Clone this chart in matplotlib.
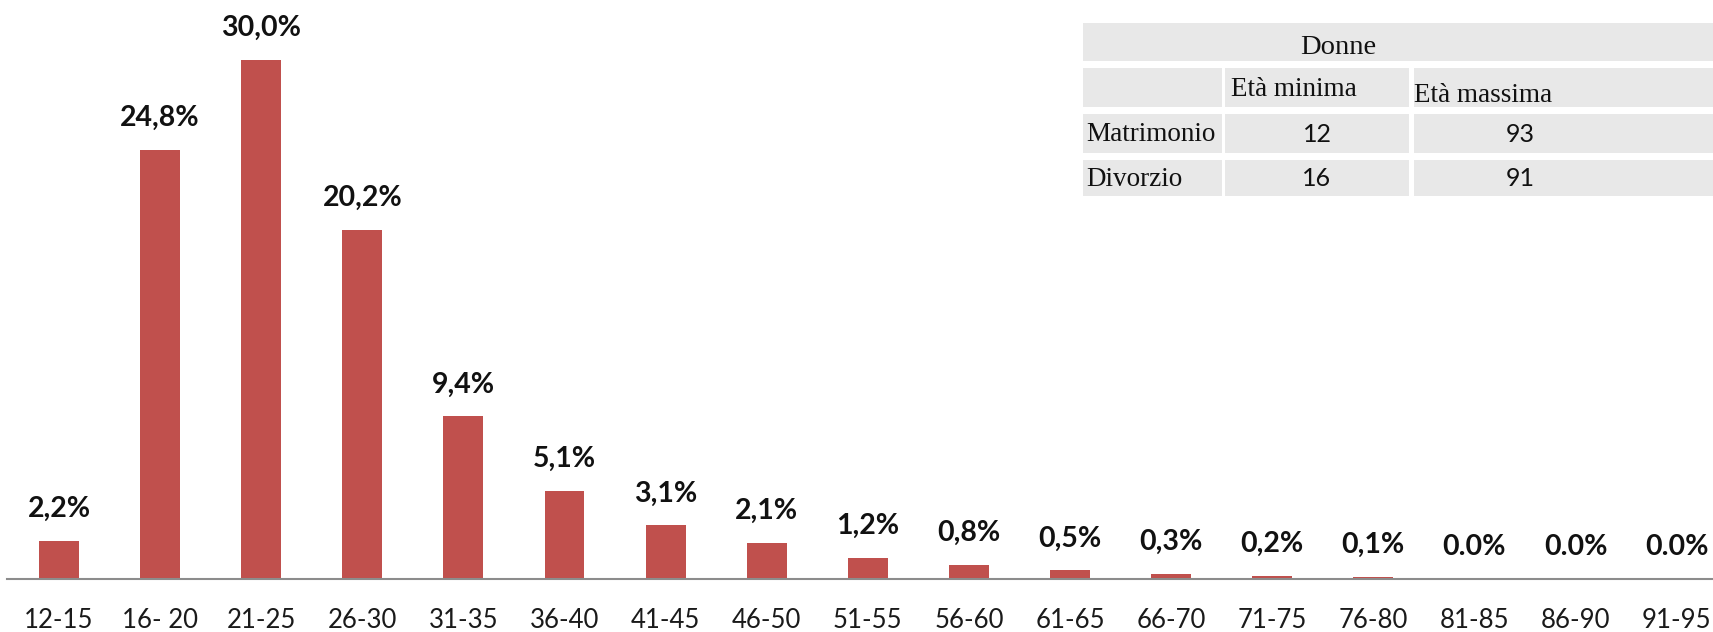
import matplotlib
matplotlib.use("Agg")
import matplotlib.pyplot as plt
from matplotlib.patches import Rectangle

categories = ["12-15", "16- 20", "21-25", "26-30", "31-35", "36-40", "41-45", "46-50",
              "51-55", "56-60", "61-65", "66-70", "71-75", "76-80", "81-85", "86-90", "91-95"]
values = [2.2, 24.8, 30.0, 20.2, 9.4, 5.1, 3.1, 2.1, 1.2, 0.8, 0.5, 0.3, 0.2, 0.1, 0.0, 0.0, 0.0]
value_labels = ["2,2%", "24,8%", "30,0%", "20,2%", "9,4%", "5,1%", "3,1%", "2,1%", "1,2%",
                "0,8%", "0,5%", "0,3%", "0,2%", "0,1%", "0.0%", "0.0%", "0.0%"]

table_title = "Donne"
table_cols = ["Età minima", "Età massima"]
table_rows = ["Matrimonio", "Divorzio"]
table_vals = [[12, 93], [16, 91]]

W, H = 1713, 632
fig = plt.figure(figsize=(W / 100, H / 100), dpi=100)

base_px = 579
ax = fig.add_axes([7 / W, (H - base_px) / H, 1 - 7 / W, base_px / H])
x = list(range(len(categories)))
ax.bar(x, values, width=0.395, color="#C0504D", zorder=2)
step = 101.1
x0 = -52 / step
ax.set_xlim(x0, x0 + (W - 7) / step)
ax.set_ylim(0, 30 * base_px / 519)
for s in ["top", "right", "left"]:
    ax.spines[s].set_visible(False)
ax.spines["bottom"].set_color("#8c8c8c")
ax.spines["bottom"].set_linewidth(1.5)
ax.set_yticks([])
ax.set_xticks(x)
ax.set_xticklabels(categories, fontfamily="Lato", fontsize=18.5, color="#1a1a1a")
ax.tick_params(axis="x", length=0, pad=21)
for xi, v, lab in zip(x, values, value_labels):
    ax.annotate(lab, (xi, v), xytext=(0, 23), textcoords="offset points",
                ha="center", va="center", fontsize=20.5, fontweight="bold",
                fontfamily="Lato", color="#111111", annotation_clip=False)

# Table drawn in pixel coordinates
def fx(px):
    return px / W

def fy(py):
    return 1 - py / H

cell_color = "#E8E8E8"

def cell(x1, y1, x2, y2):
    fig.patches.append(Rectangle((fx(x1), fy(y2)), fx(x2) - fx(x1), fy(y1) - fy(y2),
                                 transform=fig.transFigure, facecolor=cell_color,
                                 edgecolor="none", zorder=3))

col_edges = [(1083, 1222), (1225, 1409), (1414, 1713)]
row_edges = [(68, 107), (114, 153), (160, 196)]
cell(1083, 23, 1713, 61)
for (r1, r2) in row_edges:
    for (c1, c2) in col_edges:
        cell(c1, r1, c2, r2)

serif = "Liberation Serif"
fig.text(fx(1338), fy(47), table_title, ha="center", va="center", fontsize=20.5,
         fontfamily=serif, color="#111111", zorder=4)
fig.text(fx(1231), fy(90), table_cols[0], ha="left", va="center", fontsize=19.5,
         fontfamily=serif, color="#111111", zorder=4)
fig.text(fx(1414), fy(96), table_cols[1], ha="left", va="center", fontsize=19.5,
         fontfamily=serif, color="#111111", zorder=4)
for (r1, r2), rname, rv in zip(row_edges[1:], table_rows, table_vals):
    yc = fy((r1 + r2) / 2 + 1)
    fig.text(fx(1086), yc, rname, ha="left", va="center", fontsize=19.5,
             fontfamily=serif, color="#111111", zorder=4)
    for (c1, c2), v in zip(col_edges[1:], rv):
        cx = (c1 + c2) / 2 if c2 < 1713 else 1520
        fig.text(fx(cx), yc, str(v), ha="center", va="center", fontsize=18,
                 fontfamily="Lato", color="#111111", zorder=4)

fig.savefig("out.png", dpi=100)
